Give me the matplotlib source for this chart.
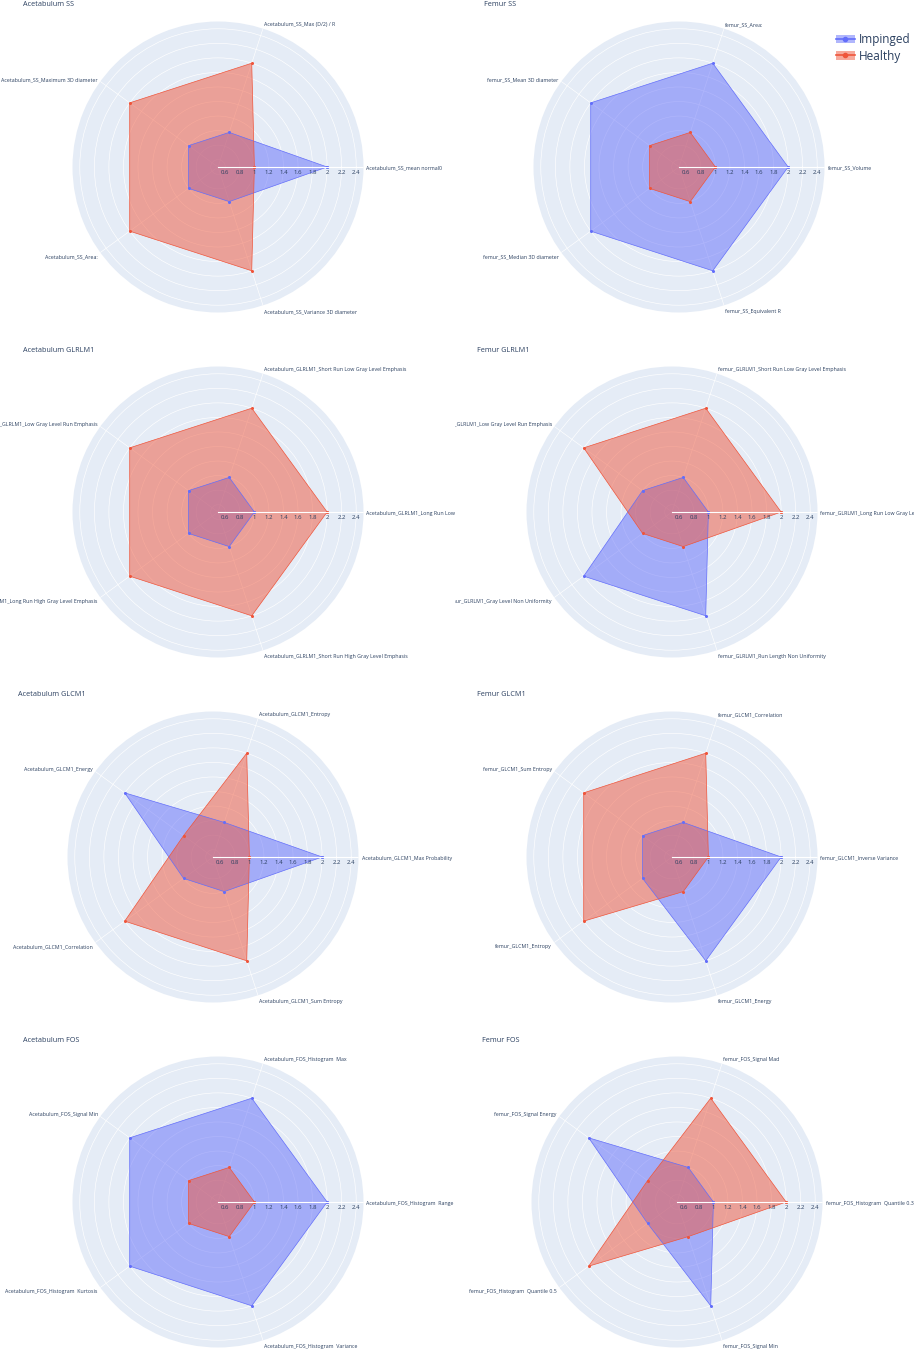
import numpy as np
import matplotlib
matplotlib.use("Agg")
import matplotlib.pyplot as plt
import matplotlib.transforms as mtransforms
from matplotlib.patches import Patch
from matplotlib.lines import Line2D

plt.rcParams['font.family'] = ['Open Sans', 'DejaVu Sans']

# ---- data -------------------------------------------------------------
series_names = ['Impinged', 'Healthy']

acet_ss_title = 'Acetabulum SS'
acet_ss_labels = ['Acetabulum_SS_mean normal0', 'Acetabulum_SS_Max (D/2) / R',
                  'Acetabulum_SS_Maximum 3D diameter', 'Acetabulum_SS_Area:',
                  'Acetabulum_SS_Variance 3D diameter']
acet_ss_imp = [2, 1, 1, 1, 1]
acet_ss_healthy = [1, 2, 2, 2, 2]

fem_ss_title = 'Femur SS'
fem_ss_labels = ['femur_SS_Volume', 'femur_SS_Area:', 'femur_SS_Mean 3D diameter',
                 'femur_SS_Median 3D diameter', 'femur_SS_Equivalent R']
fem_ss_imp = [2, 2, 2, 2, 2]
fem_ss_healthy = [1, 1, 1, 1, 1]

acet_glrlm_title = 'Acetabulum GLRLM1'
acet_glrlm_labels = ['Acetabulum_GLRLM1_Long Run Low Gray Level Emphasis',
                     'Acetabulum_GLRLM1_Short Run Low Gray Level Emphasis',
                     'Acetabulum_GLRLM1_Low Gray Level Run Emphasis',
                     'Acetabulum_GLRLM1_Long Run High Gray Level Emphasis',
                     'Acetabulum_GLRLM1_Short Run High Gray Level Emphasis']
acet_glrlm_imp = [1, 1, 1, 1, 1]
acet_glrlm_healthy = [2, 2, 2, 2, 2]

fem_glrlm_title = 'Femur GLRLM1'
fem_glrlm_labels = ['femur_GLRLM1_Long Run Low Gray Level Emphasis',
                    'femur_GLRLM1_Short Run Low Gray Level Emphasis',
                    'femur_GLRLM1_Low Gray Level Run Emphasis',
                    'femur_GLRLM1_Gray Level Non Uniformity',
                    'femur_GLRLM1_Run Length Non Uniformity']
fem_glrlm_imp = [1, 1, 1, 2, 2]
fem_glrlm_healthy = [2, 2, 2, 1, 1]

acet_glcm_title = 'Acetabulum GLCM1'
acet_glcm_labels = ['Acetabulum_GLCM1_Max Probability', 'Acetabulum_GLCM1_Entropy',
                    'Acetabulum_GLCM1_Energy', 'Acetabulum_GLCM1_Correlation',
                    'Acetabulum_GLCM1_Sum Entropy']
acet_glcm_imp = [2, 1, 2, 1, 1]
acet_glcm_healthy = [1, 2, 1, 2, 2]

fem_glcm_title = 'Femur GLCM1'
fem_glcm_labels = ['femur_GLCM1_Inverse Variance', 'femur_GLCM1_Correlation',
                   'femur_GLCM1_Sum Entropy', 'femur_GLCM1_Entropy', 'femur_GLCM1_Energy']
fem_glcm_imp = [2, 1, 1, 1, 2]
fem_glcm_healthy = [1, 2, 2, 2, 1]

acet_fos_title = 'Acetabulum FOS'
acet_fos_labels = ['Acetabulum_FOS_Histogram  Range', 'Acetabulum_FOS_Histogram  Max',
                   'Acetabulum_FOS_Signal Min', 'Acetabulum_FOS_Histogram  Kurtosis',
                   'Acetabulum_FOS_Histogram  Variance']
acet_fos_imp = [2, 2, 2, 2, 2]
acet_fos_healthy = [1, 1, 1, 1, 1]

fem_fos_title = 'Femur FOS'
fem_fos_labels = ['femur_FOS_Histogram  Quantile 0.3', 'femur_FOS_Signal Mad',
                  'femur_FOS_Signal Energy', 'femur_FOS_Histogram  Quantile 0.5',
                  'femur_FOS_Signal Min']
fem_fos_imp = [1, 1, 2, 1, 2]
fem_fos_healthy = [2, 2, 1, 2, 1]

radial_ticks = [0.6, 0.8, 1, 1.2, 1.4, 1.6, 1.8, 2, 2.2, 2.4]

# ---- layout -----------------------------------------------------------
W, H = 914, 1350
R = 145.5
TXT = '#2a3f5f'
colors = ['#636efa', '#ef553b']
half = 455

# (title, labels, impinged, healthy, center x px, center y px, column)
panels = [
    (acet_ss_title, acet_ss_labels, acet_ss_imp, acet_ss_healthy, 218, 167, 0),
    (fem_ss_title, fem_ss_labels, fem_ss_imp, fem_ss_healthy, 679, 167, 1),
    (acet_glrlm_title, acet_glrlm_labels, acet_glrlm_imp, acet_glrlm_healthy, 218, 512, 0),
    (fem_glrlm_title, fem_glrlm_labels, fem_glrlm_imp, fem_glrlm_healthy, 672, 512, 1),
    (acet_glcm_title, acet_glcm_labels, acet_glcm_imp, acet_glcm_healthy, 213, 857, 0),
    (fem_glcm_title, fem_glcm_labels, fem_glcm_imp, fem_glcm_healthy, 672, 857, 1),
    (acet_fos_title, acet_fos_labels, acet_fos_imp, acet_fos_healthy, 218, 1202, 0),
    (fem_fos_title, fem_fos_labels, fem_fos_imp, fem_fos_healthy, 677, 1202, 1),
]

fig = plt.figure(figsize=(W / 100, H / 100), dpi=100)


def px_offset(dx, dy):
    return mtransforms.ScaledTranslation(dx / 100, dy / 100, fig.dpi_scale_trans)


for title, labels, imp, healthy, cx, cy, col in panels:
    ax = fig.add_axes([(cx - R) / W, 1 - (cy + R) / H, 2 * R / W, 2 * R / H],
                      projection='polar')
    n = len(labels)
    theta = np.arange(n) * 2 * np.pi / n
    th = np.append(theta, theta[0])

    for vals, c in zip([imp, healthy], colors):
        v = np.append(vals, vals[0])
        ax.fill(th, v, color=c, alpha=0.5, lw=0, zorder=2)
        ax.plot(th, v, color=c, lw=0.5, marker='o', ms=1.2, zorder=2.5)

    ax.set_ylim(0.5, 2.5)
    ax.set_facecolor('#E5ECF6')
    ax.spines['polar'].set_visible(False)
    ax.set_xticks(theta)
    ax.set_xticklabels([])
    ax.set_yticks(radial_ticks)
    ax.set_yticklabels([])
    ax.tick_params(length=0)
    ax.grid(True, color='white', lw=0.45)
    ax.set_axisbelow(True)

    # radial axis line and its tick labels
    ax.plot([0, 0], [0.5, 2.5], color='white', lw=0.8, zorder=3)
    for r in radial_ticks:
        ax.text(0, r, '%g' % r, transform=ax.transData + px_offset(0, -5.5),
                ha='center', va='center', fontsize=4.3, color=TXT, zorder=4)

    # angular labels, clipped to the subplot's half of the figure
    if col == 0:
        clip = mtransforms.Bbox.from_extents(0, 0, half / W, 1)
    else:
        clip = mtransforms.Bbox.from_extents(half / W, 0, 1, 1)
    clip_box = mtransforms.TransformedBbox(clip, fig.transFigure)
    for t, lab in zip(theta, labels):
        c, s = np.cos(t), np.sin(t)
        ha = 'left' if c > 0.1 else ('right' if c < -0.1 else 'center')
        t_obj = fig.text(t, 2.5, lab,
                         transform=ax.transData + px_offset(3 * c, 5.3 * s - 1.2),
                         ha=ha, va='center', fontsize=3.8, color=TXT)
        t_obj.set_clip_box(clip_box)
        t_obj.set_clip_on(True)

    fig.text((cx - 195) / W, 1 - (cy - 162) / H, title, ha='left', va='center',
             fontsize=5.2, color=TXT)

handles = [(Patch(facecolor=c, alpha=0.5, edgecolor='none'),
            Line2D([], [], color=c, lw=1.2, marker='o', ms=3)) for c in colors]
leg = fig.legend(handles, series_names, loc='upper left',
                 bbox_to_anchor=(836 / W, 1 - 33 / H), frameon=False, fontsize=8.5,
                 handlelength=1.6, handletextpad=0.3, labelspacing=0.3,
                 borderpad=0, borderaxespad=0)
for txt in leg.get_texts():
    txt.set_color(TXT)

fig.savefig('out.png', dpi=100, facecolor='white')
